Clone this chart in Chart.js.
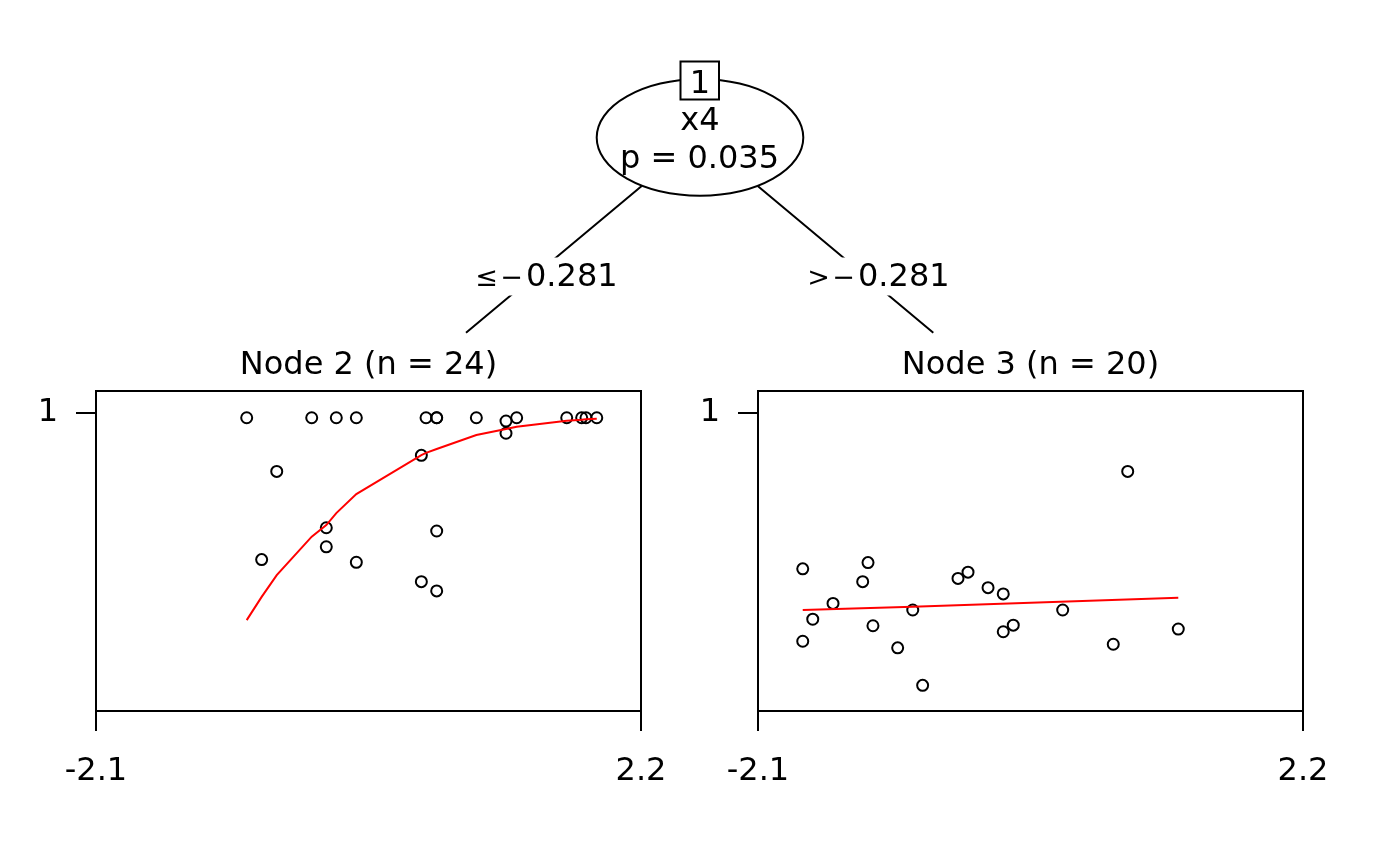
<!DOCTYPE html>
<html>
<head>
<meta charset="utf-8">
<script src="https://cdn.jsdelivr.net/npm/chart.js@4.4.0/dist/chart.umd.min.js"></script>
<style>
  body { margin: 0; background: #fff; }
  #wrap { position: relative; width: 1400px; height: 866px; }
  #wrap canvas { position: absolute; left: 0; top: 0; }
</style>
</head>
<body>
<div id="wrap">
  <canvas id="tree" width="1400" height="866"></canvas>
  <canvas id="node2" width="1400" height="866"></canvas>
  <canvas id="node3" width="1400" height="866"></canvas>
</div>
<script>
// axis ticks
const xTicks = [-2.1, 2.2];
const yTicks = [1];

// node 2 (x4 <= -0.281)
const node2X = [-0.911, -0.398, -0.204, -0.046, 0.504, 0.588, 0.588, 0.901, 1.135, 1.219, 1.135, 1.614,
  1.732, 1.766, 1.851, -0.674, -0.283, -0.283, -0.793, -0.046, 0.467, 0.588, 0.467, 0.588];
const node2Y = [0.984, 0.984, 0.984, 0.984, 0.984, 0.984, 0.984, 0.984, 0.973, 0.984, 0.932, 0.984,
  0.984, 0.984, 0.984, 0.804, 0.615, 0.551, 0.508, 0.499, 0.858, 0.604, 0.434, 0.403];
const node2FitX = [-0.911, -0.793, -0.674, -0.398, -0.283, -0.204, -0.046, 0.467, 0.504, 0.588, 0.901,
  1.135, 1.219, 1.614, 1.732, 1.766, 1.851];
const node2FitY = [0.305, 0.383, 0.456, 0.585, 0.624, 0.664, 0.728, 0.859, 0.866, 0.879, 0.926,
  0.946, 0.954, 0.974, 0.977, 0.979, 0.981];

// node 3 (x4 > -0.281)
const node3X = [-1.747, -1.232, -1.274, -1.508, -1.668, -1.747, -1.193, -0.998, -0.879, -0.801, -0.522,
  -0.443, -0.285, -0.165, -0.086, -0.165, 0.817, 0.304, 0.703, 1.216];
const node3Y = [0.477, 0.498, 0.434, 0.361, 0.308, 0.234, 0.286, 0.212, 0.339, 0.086, 0.445,
  0.466, 0.414, 0.393, 0.288, 0.266, 0.804, 0.339, 0.224, 0.275];
const node3FitX = [-1.747, -0.879, 1.216];
const node3FitY = [0.339, 0.350, 0.380];

const nodeTitles = ['Node 2 (n = 24)', 'Node 3 (n = 20)'];
const splitVar = 'x4';
const splitP = 'p = 0.035';
const splitValue = '0.281';

const FONT = 'DejaVu Sans';
const LW = 2;
Chart.defaults.font.family = FONT;
Chart.defaults.color = '#000';

function pts(xs, ys) {
  return xs.map((x, i) => ({ x: x, y: ys[i] }));
}

// box + title around each panel
const panelFrame = {
  id: 'panelFrame',
  afterDraw(chart, args, opts) {
    const ctx = chart.ctx, a = chart.chartArea;
    ctx.save();
    ctx.strokeStyle = '#000';
    ctx.lineWidth = LW;
    ctx.strokeRect(a.left, a.top, a.right - a.left, a.bottom - a.top);
    ctx.fillStyle = '#000';
    ctx.font = '32px "' + FONT + '"';
    ctx.textAlign = 'center';
    ctx.textBaseline = 'alphabetic';
    ctx.fillText(opts.title, (a.left + a.right) / 2, 374);
    ctx.restore();
  }
};

function makePanel(id, xs, ys, fx, fy, title, left, right) {
  return new Chart(document.getElementById(id), {
    type: 'scatter',
    data: {
      datasets: [{
        type: 'line',
        data: pts(fx, fy),
        borderColor: '#ff0000',
        borderWidth: LW,
        pointRadius: 0,
        tension: 0,
        fill: false
      }, {
        data: pts(xs, ys),
        pointStyle: 'circle',
        pointRadius: 5.5,
        pointBorderWidth: LW,
        pointBorderColor: '#000',
        pointBackgroundColor: 'rgba(0,0,0,0)'
      }]
    },
    options: {
      responsive: false,
      animation: false,
      devicePixelRatio: 1,
      events: [],
      layout: { padding: { left: left - 96, right: 1400 - right, top: 391, bottom: 866 - 711 - 100 } },
      plugins: {
        legend: { display: false },
        tooltip: { enabled: false },
        panelFrame: { title: title }
      },
      scales: {
        x: {
          type: 'linear', min: -2.1, max: 2.2,
          afterFit: s => { s.height = 100; },
          afterBuildTicks: s => { s.ticks = xTicks.map(v => ({ value: v })); },
          ticks: { autoSkip: false, maxRotation: 0, padding: 21, color: '#000',
            font: { size: 32 }, callback: v => String(v) },
          grid: { drawOnChartArea: false, drawTicks: true, tickLength: 20, color: '#000', lineWidth: LW },
          border: { display: false }
        },
        y: {
          type: 'linear', min: 0, max: 320 / 298,
          afterFit: s => { s.width = 96; },
          afterBuildTicks: s => { s.ticks = yTicks.map(v => ({ value: v })); },
          ticks: { autoSkip: false, padding: 18, color: '#000',
            font: { size: 32 }, callback: v => String(v) },
          grid: { drawOnChartArea: false, drawTicks: true, tickLength: 20, color: '#000', lineWidth: LW },
          border: { display: false }
        }
      }
    },
    plugins: [panelFrame]
  });
}

// inner node, edges and split labels
const treeDraw = {
  id: 'treeDraw',
  afterDraw(chart) {
    const ctx = chart.ctx;
    ctx.save();
    ctx.strokeStyle = '#000';
    ctx.fillStyle = '#000';
    ctx.lineWidth = LW;

    // edges
    ctx.beginPath();
    ctx.moveTo(641.7, 186); ctx.lineTo(466, 332.7);
    ctx.moveTo(757.7, 186); ctx.lineTo(933.3, 332.7);
    ctx.stroke();

    // label backgrounds
    ctx.fillStyle = '#fff';
    ctx.fillRect(470, 257.5, 154, 38);
    ctx.fillRect(802, 257.5, 154, 38);

    // node ellipse
    ctx.beginPath();
    ctx.ellipse(700, 137.5, 103.3, 58.2, 0, 0, Math.PI * 2);
    ctx.fill();
    ctx.stroke();

    // id box
    ctx.fillRect(680.5, 61.5, 38.5, 38);
    ctx.strokeRect(680.5, 61.5, 38.5, 38);

    ctx.fillStyle = '#000';
    ctx.textAlign = 'center';
    ctx.textBaseline = 'alphabetic';
    ctx.font = '32px "' + FONT + '"';
    ctx.fillText('1', 700, 92.7);
    ctx.fillText(splitVar, 700, 130);
    ctx.fillText(splitP, 699.5, 168.3);

    // split labels
    ctx.font = '27px "' + FONT + '"';
    ctx.fillText('\u2264', 486.5, 285.7);
    ctx.fillText('\u2212', 511.5, 285.7);
    ctx.fillText('>', 818.5, 285.7);
    ctx.fillText('\u2212', 843.5, 285.7);
    ctx.font = '32px "' + FONT + '"';
    ctx.textAlign = 'left';
    ctx.fillText(splitValue, 526, 286);
    ctx.fillText(splitValue, 858, 286);
    ctx.restore();
  }
};

new Chart(document.getElementById('tree'), {
  type: 'scatter',
  data: { datasets: [] },
  options: {
    responsive: false,
    animation: false,
    devicePixelRatio: 1,
    events: [],
    plugins: { legend: { display: false }, tooltip: { enabled: false } },
    scales: { x: { display: false }, y: { display: false } }
  },
  plugins: [treeDraw]
});

makePanel('node2', node2X, node2Y, node2FitX, node2FitY, nodeTitles[0], 96, 641);
makePanel('node3', node3X, node3Y, node3FitX, node3FitY, nodeTitles[1], 758, 1303);
</script>
</body>
</html>
